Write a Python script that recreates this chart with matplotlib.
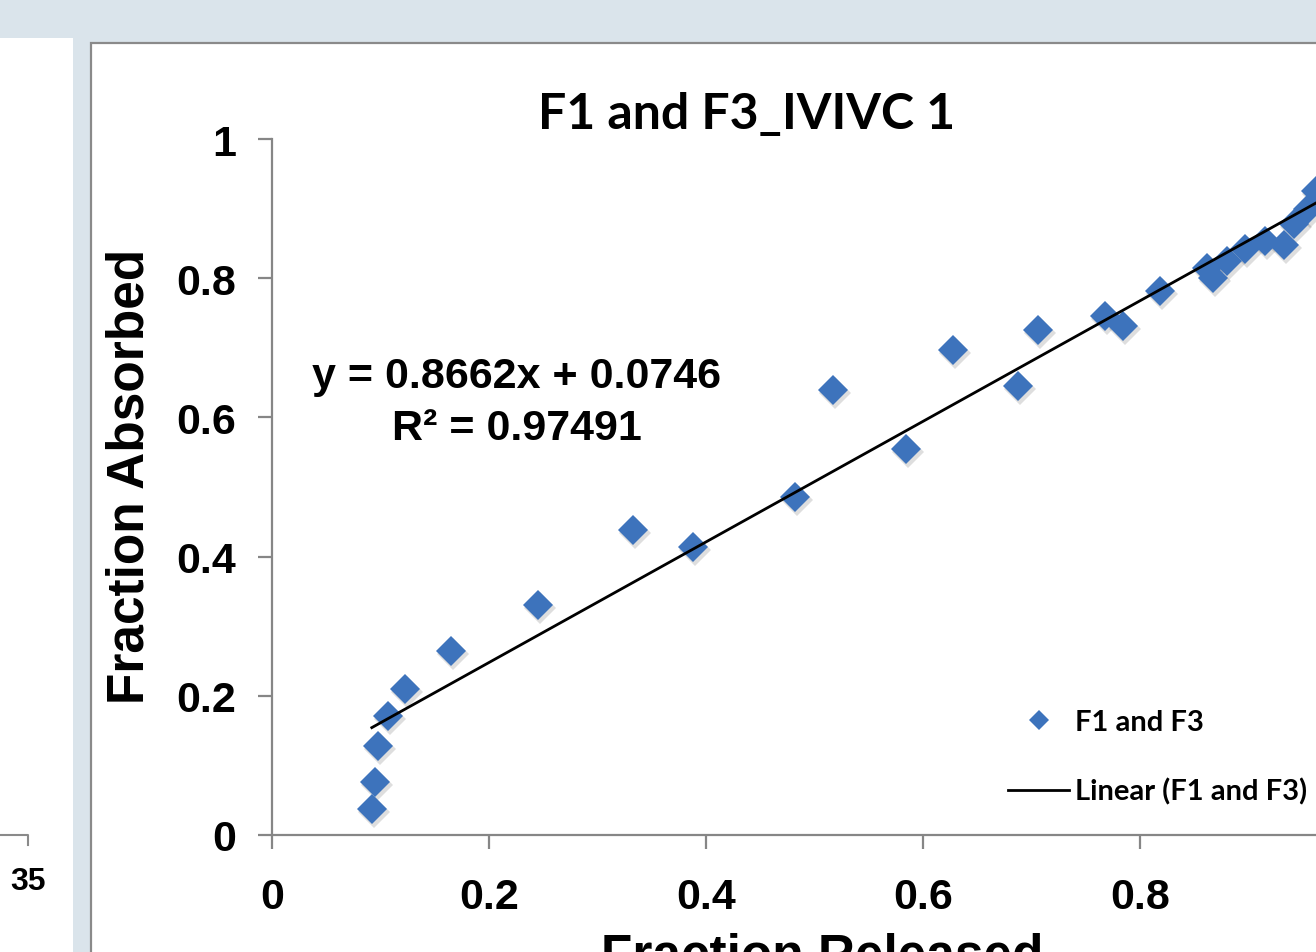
import matplotlib
matplotlib.use("Agg")
import matplotlib.pyplot as plt
from matplotlib.patches import Rectangle
from matplotlib.lines import Line2D
from matplotlib.transforms import offset_copy
import numpy as np

# data
fraction_released = [0.092, 0.095, 0.098, 0.107, 0.123, 0.165, 0.245, 0.333, 0.388,
                     0.482, 0.517, 0.584, 0.628, 0.688, 0.706, 0.768, 0.784, 0.818,
                     0.862, 0.867, 0.880, 0.897, 0.915, 0.933, 0.942, 0.955, 0.962]
fraction_absorbed = [0.037, 0.076, 0.128, 0.171, 0.210, 0.264, 0.330, 0.438, 0.414,
                     0.486, 0.639, 0.555, 0.697, 0.645, 0.726, 0.746, 0.731, 0.782,
                     0.815, 0.800, 0.825, 0.842, 0.853, 0.848, 0.878, 0.900, 0.925]
slope = 0.8662
intercept = 0.0746
r_squared = 0.97491
ticks = [0, 0.2, 0.4, 0.6, 0.8, 1.0]
y_tick_labels = ['0', '0.2', '0.4', '0.6', '0.8', '1']
x_tick_labels = ['0', '0.2', '0.4', '0.6', '0.8', '']  # "1" falls outside the crop

W, H = 1316, 953
def fx(x):
    return x / W
def fy(y):
    return 1 - y / H

fig = plt.figure(figsize=(W / 100, H / 100), dpi=100, facecolor='#DAE4EB')

# background panels (neighbouring chart on the left, chart area frame)
fig.add_artist(Rectangle((0, 0), fx(73), fy(39), transform=fig.transFigure,
                         facecolor='white', edgecolor='none', zorder=-5))
fig.add_artist(Rectangle((fx(91), -0.05), 1.2, fy(44) + 0.05, transform=fig.transFigure,
                         facecolor='white', edgecolor='#8A8A8A', lw=1.6, zorder=-5))
fig.add_artist(Line2D([0, fx(28), fx(28)], [fy(836), fy(836), fy(846)],
                      transform=fig.transFigure, color='#8A8A8A', lw=1.5))
fig.text(fx(28), fy(882), '35', ha='center', va='center', fontsize=23,
         fontweight='bold', family='Liberation Sans')

ax = fig.add_axes([fx(272), fy(836), 1085 / W, 696 / H])
ax.set_facecolor('none')
ax.set_xlim(0, 1)
ax.set_ylim(0, 1)

# soft shadow under the markers
shadow = offset_copy(ax.transData, fig=fig, x=2, y=-3, units='dots')
ax.plot(fraction_released, fraction_absorbed, 'D', ms=16, color='black',
        alpha=0.13, mew=0, transform=shadow, clip_on=False)
ax.plot(fraction_released, fraction_absorbed, 'D', ms=15.5, color='#3D73BC',
        mew=0, label='F1 and F3', clip_on=False)

xt = np.array([min(fraction_released), max(fraction_released)])
ax.plot(xt, slope * xt + intercept, color='black', lw=2, label='Linear (F1 and F3)')

for s in ['top', 'right']:
    ax.spines[s].set_visible(False)
for s in ['left', 'bottom']:
    ax.spines[s].set_color('#868686')
    ax.spines[s].set_linewidth(1.6)

ax.set_xticks(ticks)
ax.set_xticklabels(x_tick_labels)
ax.set_yticks(ticks)
ax.set_yticklabels(y_tick_labels)
ax.tick_params(direction='out', length=10, width=1.6, color='#868686')
ax.tick_params(axis='y', pad=16)
ax.tick_params(axis='x', pad=20)
for lab in ax.get_xticklabels() + ax.get_yticklabels():
    lab.set_fontsize(31)
    lab.set_fontweight('bold')
    lab.set_family('Liberation Sans')

fig.text(fx(130), fy(476), 'Fraction Absorbed', rotation=90, ha='center', va='center',
         fontsize=37, fontweight='bold', family='Liberation Sans')
fig.text(fx(822), fy(957), 'Fraction Released', ha='center', va='center',
         fontsize=37, fontweight='bold', family='Liberation Sans')
fig.text(fx(747), fy(115), 'F1 and F3_IVIVC 1', ha='center', va='center',
         fontsize=36, fontweight='bold', family='Lato')

fig.text(fx(517), fy(377), 'y = %.4fx + %.4f' % (slope, intercept), ha='center',
         va='center', fontsize=31, fontweight='bold', family='Liberation Sans')
fig.text(fx(517), fy(429), 'R² = %.5f' % r_squared, ha='center',
         va='center', fontsize=31, fontweight='bold', family='Liberation Sans')

ax.legend(loc='center left', bbox_to_anchor=(fx(1008), fy(758)),
          bbox_transform=fig.transFigure, frameon=False, borderpad=0,
          borderaxespad=0, handlelength=2.1, handletextpad=0.2,
          labelspacing=1.45, markerscale=0.65,
          prop={'family': 'Lato', 'weight': 'bold', 'size': 21})

fig.savefig('out.png', dpi=100, facecolor=fig.get_facecolor())
